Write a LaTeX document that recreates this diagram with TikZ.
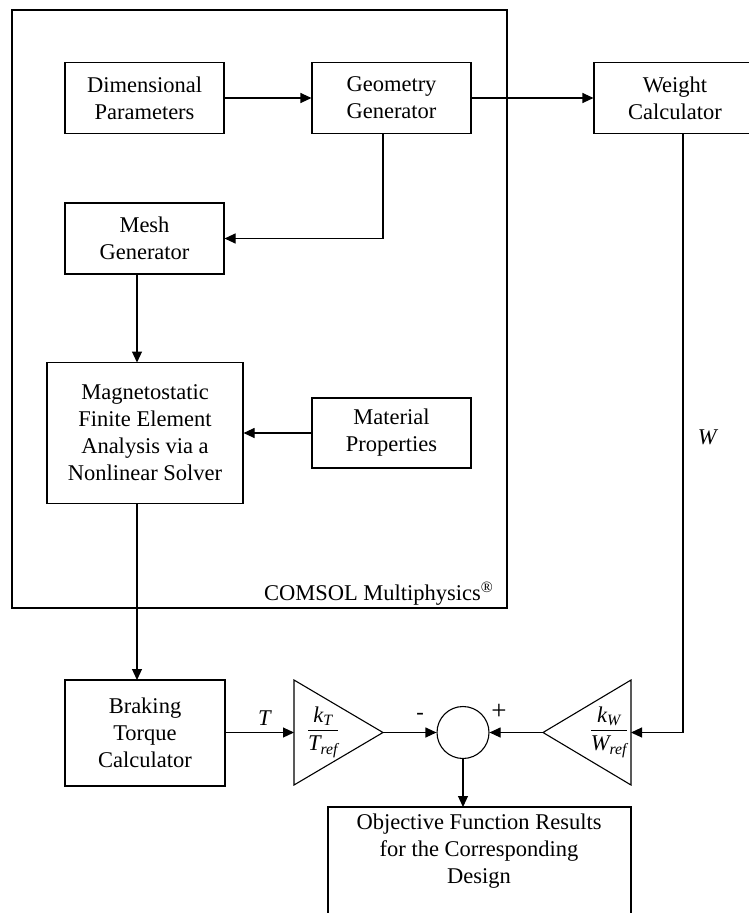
\documentclass[tikz,border=0pt]{standalone}
\usepackage{amsmath}
\usepackage{fontspec}
\setmainfont{Liberation Serif}
\usetikzlibrary{arrows.meta}
\begin{document}
\begin{tikzpicture}[x=1pt,y=-1pt,line width=1.1pt,
  every node/.style={font=\fontsize{22.5}{27}\selectfont},
  blk/.style={draw,inner sep=0pt,align=center},
  arr/.style={-{Triangle[length=11pt,width=10pt]}},
  lbl/.style={inner sep=0pt}]
\useasboundingbox (0,0) rectangle (749,913);
\clip (0,0) rectangle (749,913);
% outer COMSOL frame
\node[draw,inner sep=0pt,minimum width=495pt,minimum height=598pt] (comsol) at (259.5,309) {};
\node[lbl,anchor=base east] (comsollbl) at (494,600) {COMSOL Multiphysics\textsuperscript{\textregistered}};
% blocks
\node[blk,minimum width=159pt,minimum height=71pt] (dim) at (144.5,98) {Dimensional\\Parameters};
\node[blk,minimum width=159pt,minimum height=71pt] (geo) at (391.5,98) {Geometry\\Generator};
\node[blk,minimum width=162pt,minimum height=71pt] (wt) at (675,98) {Weight\\Calculator};
\node[blk,minimum width=159pt,minimum height=71pt] (mesh) at (144.5,238.5) {Mesh\\Generator};
\node[blk,minimum width=196pt,minimum height=141pt] (mag) at (145,433) {Magnetostatic\\Finite Element\\Analysis via a\\Nonlinear Solver};
\node[blk,minimum width=159pt,minimum height=70pt] (mat) at (391.5,433) {Material\\Properties};
\node[blk,minimum width=160pt,minimum height=106pt] (brk) at (145,733) {Braking\\Torque\\Calculator};
\node[draw,inner sep=0pt,minimum width=303pt,minimum height=200pt] (obj) at (479.5,907) {};
\node[lbl,align=center,anchor=north] (objtxt) at (479,813) {Objective Function Results\\for the Corresponding\\Design};
% gain triangles
\coordinate (kTa) at (294,680);
\coordinate (kTb) at (294,785);
\coordinate (kTin) at (294,732.5);
\coordinate (kTout) at (383,732.5);
\draw[line join=miter] (kTa) -- (kTout) -- (kTb) -- cycle;
\node[lbl] (kTfrac) at (323,732) {$\displaystyle\frac{\textit{k}_{\textit{T}}}{\textit{T}_{\textit{ref}}}$};
\coordinate (kWa) at (631,680);
\coordinate (kWb) at (631,785);
\coordinate (kWin) at (631,732.5);
\coordinate (kWout) at (543,732.5);
\draw[line join=miter] (kWa) -- (kWout) -- (kWb) -- cycle;
\node[lbl] (kWfrac) at (609,732) {$\displaystyle\frac{\textit{k}_{\textit{W}}}{\textit{W}_{\textit{ref}}}$};
% summing junction
\node[draw,circle,inner sep=0pt,minimum size=52pt] (sum) at (463,732.5) {};
% connectors
\draw[arr] (dim.east) -- (geo.west);
\draw[arr] (geo.east) -- (wt.west);
\coordinate (geodown) at (383,133.5);
\draw[arr] (geodown) |- (mesh.east);
\coordinate (meshout) at (137,274);
\coordinate (magin) at (137,362.5);
\draw[arr] (meshout) -- (magin);
\draw[arr] (mat.west) -- (mag.east);
\coordinate (magout) at (137,503.5);
\coordinate (brkin) at (137,680);
\draw[arr] (magout) -- (brkin);
\draw[arr] (brk.east |- kTin) -- (kTin);
\draw[arr] (kTout) -- (sum.west);
\coordinate (wtout) at (683,133.5);
\draw[arr] (wtout) |- (kWin);
\draw[arr] (kWout) -- (sum.east);
\coordinate (objin) at (463,807);
\draw[arr] (sum.south) -- (objin);
% labels
\node[lbl] (Tl) at (265,718) {\textit{T}};
\node[lbl] (Wl) at (708,437) {\textit{W}};
\node[lbl] (minus) at (420,716) {-};
\node[lbl,font=\fontsize{27}{30}\selectfont] (plus) at (499,712) {+};
\end{tikzpicture}
\end{document}
